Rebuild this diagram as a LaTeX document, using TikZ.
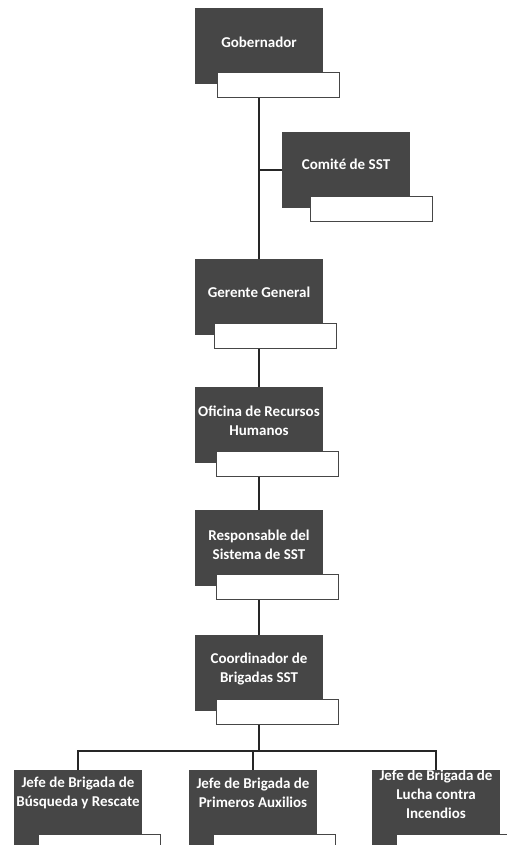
\documentclass[tikz,border=0pt]{standalone}
\usepackage{fontspec}
\setmainfont{Carlito}
\usetikzlibrary{positioning}
\definecolor{boxgray}{RGB}{70,70,70}

\tikzset{
  darkbox/.style={fill=boxgray, minimum width=128pt, minimum height=76pt, inner sep=0pt},
  boxtext/.style={text=white, font=\fontsize{15}{19}\selectfont\bfseries, align=center, inner sep=0pt},
  whitebox/.style={draw=boxgray, line width=1pt, fill=white, minimum width=122pt, minimum height=25pt, inner sep=0pt},
  link/.style={line width=1.3pt, black!85}
}

\begin{document}
\begin{tikzpicture}[x=1pt,y=-1pt]
  \useasboundingbox (0,0) rectangle (506,845);

  % main column
  \node[darkbox] (gob) at (259,46) {};
  \node[whitebox, below right=-12pt and 22pt of gob.south west] (gobw) {};
  \node[boxtext] (gobt) at ([yshift=4pt]gob.center) {Gobernador};

  \node[darkbox] (com) at (346,170) {};
  \node[whitebox, below right=-12pt and 28pt of com.south west] (comw) {};
  \node[boxtext] (comt) at ([yshift=6pt]com.center) {Comité de SST};

  \node[darkbox] (ger) at (259,297) {};
  \node[whitebox, below right=-12pt and 19pt of ger.south west] (gerw) {};
  \node[boxtext] (gert) at ([yshift=5pt]ger.center) {Gerente General};

  \node[darkbox] (ofi) at (259,425) {};
  \node[whitebox, below right=-12pt and 21pt of ofi.south west] (ofiw) {};
  \node[boxtext] (ofit) at ([yshift=4pt]ofi.center) {Oficina de Recursos\\Humanos};

  \node[darkbox] (res) at (259,548) {};
  \node[whitebox, below right=-12pt and 21pt of res.south west] (resw) {};
  \node[boxtext] (rest) at ([yshift=3pt]res.center) {Responsable del\\Sistema de SST};

  \node[darkbox] (coo) at (259,673) {};
  \node[whitebox, below right=-12pt and 21pt of coo.south west] (coow) {};
  \node[boxtext] (coot) at ([yshift=4pt]coo.center) {Coordinador de\\Brigadas SST};

  % brigades
  \node[darkbox] (bus) at (78,808) {};
  \node[whitebox, below right=-12pt and 24pt of bus.south west] (busw) {};
  \node[boxtext] (bust) at ([yshift=15pt]bus.center) {Jefe de Brigada de\\Búsqueda y Rescate};

  \node[darkbox] (pri) at (253,808) {};
  \node[whitebox, below right=-12pt and 24pt of pri.south west] (priw) {};
  \node[boxtext] (prit) at ([yshift=15pt]pri.center) {Jefe de Brigada de\\Primeros Auxilios};

  \node[darkbox] (luc) at (436,808) {};
  \node[whitebox, below right=-12pt and 24pt of luc.south west] (lucw) {};
  \node[boxtext] (luct) at ([yshift=14pt]luc.center) {Jefe de Brigada de\\Lucha contra\\Incendios};

  % lines
  \coordinate (split) at (259,751);
  \draw[link] (gob.center |- gobw.south) -- (ger.north);
  \draw[link] (gob.center |- com.west) -- (com.west);
  \draw[link] (ger.center |- gerw.south) -- (ofi.north);
  \draw[link] (ofi.center |- ofiw.south) -- (res.north);
  \draw[link] (res.center |- resw.south) -- (coo.north);
  \draw[link] (coo.center |- coow.south) -- (split);
  \draw[link] (bus.north) |- (split) -| (luc.north);
  \draw[link] (pri.north |- split) -- (pri.north);
\end{tikzpicture}
\end{document}
